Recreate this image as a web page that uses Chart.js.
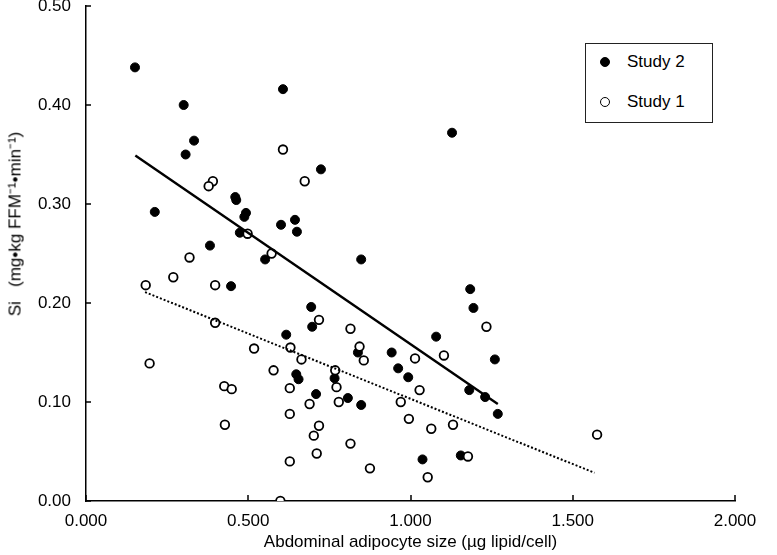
<!DOCTYPE html>
<html>
<head>
<meta charset="utf-8">
<script src="https://cdn.jsdelivr.net/npm/chart.js@4.4.1/dist/chart.umd.min.js"></script>
<style>
  body { margin: 0; background: #fff; }
  #wrap { position: relative; width: 777px; height: 555px; font-family: "Liberation Sans", Arial, sans-serif; color: #000; }
  #yTitle {
    position: absolute; left: 14px; top: 224px; white-space: nowrap; font-size: 17px;
    transform: translate(-50%, -50%) rotate(-90deg);
  }
  #legend {
    position: absolute; left: 585px; top: 43px; width: 126px; height: 78px;
    border: 1.5px solid #222; background: #fff;
  }
  .legend-item { position: absolute; left: 14px; display: flex; align-items: center; font-size: 17px; }
  .legend-mark { width: 8px; height: 8px; border-radius: 50%; border: 1.6px solid #000; margin-right: 17px; }
</style>
</head>
<body>
<div id="wrap">
  <canvas id="chart" width="777" height="555"></canvas>
  <div id="yTitle">Si&nbsp;&nbsp;&nbsp;(mg•kg FFM⁻¹•min⁻¹)</div>
  <div id="legend"></div>
</div>
<script>
// Study 2 (filled circles)
const study2X = [0.151, 0.301, 0.333, 0.307, 0.607, 0.724, 0.212, 0.460, 0.463, 0.493, 0.488, 0.601, 0.644, 0.650,
  0.474, 0.382, 0.552, 0.848, 0.447, 0.694, 0.697, 0.617, 0.838, 0.648, 0.655, 0.766, 0.709, 0.807, 0.848,
  1.128, 1.184, 1.194, 1.079, 0.942, 1.260, 0.962, 0.993, 1.181, 1.230, 1.269, 1.155, 1.037];
const study2Y = [0.438, 0.400, 0.364, 0.350, 0.416, 0.335, 0.292, 0.307, 0.304, 0.291, 0.287, 0.279, 0.284, 0.272,
  0.271, 0.258, 0.244, 0.244, 0.217, 0.196, 0.176, 0.168, 0.150, 0.128, 0.123, 0.124, 0.108, 0.104, 0.097,
  0.372, 0.214, 0.195, 0.166, 0.150, 0.143, 0.134, 0.125, 0.112, 0.105, 0.088, 0.046, 0.042];

// Study 1 (open circles)
const study1X = [0.607, 0.391, 0.378, 0.674, 0.498, 0.572, 0.319, 0.269, 0.184, 0.398, 0.398, 0.196, 0.518, 0.630,
  0.664, 0.718, 0.815, 0.843, 0.856, 0.768, 0.578, 0.772, 0.628, 0.426, 0.449, 0.779, 0.689, 0.628, 0.428,
  0.718, 0.702, 0.815, 0.711, 0.628, 0.875, 0.599, 1.234, 1.103, 1.014, 1.028, 0.970, 0.995, 1.064, 1.131,
  1.575, 1.177, 1.053];
const study1Y = [0.355, 0.323, 0.318, 0.323, 0.270, 0.250, 0.246, 0.226, 0.218, 0.218, 0.180, 0.139, 0.154, 0.155,
  0.143, 0.183, 0.174, 0.156, 0.142, 0.132, 0.132, 0.115, 0.114, 0.116, 0.113, 0.100, 0.098, 0.088, 0.077,
  0.076, 0.066, 0.058, 0.048, 0.040, 0.033, 0.000, 0.176, 0.147, 0.144, 0.112, 0.100, 0.083, 0.073, 0.077,
  0.067, 0.045, 0.024];

// trend line end points
const trend2X = [0.152, 1.269];
const trend2Y = [0.349, 0.098];
const trend1X = [0.182, 1.567];
const trend1Y = [0.211, 0.0285];

const FONT = "'Liberation Sans', Arial, sans-serif";

function zip(xs, ys) {
  return xs.map((x, i) => ({ x, y: ys[i] }));
}

// small tick marks drawn inward from the axis lines
const innerTicks = {
  id: "innerTicks",
  afterDraw(chart) {
    const { ctx, scales: { x, y }, chartArea } = chart;
    ctx.save();
    ctx.strokeStyle = "#000";
    ctx.lineWidth = 1.5;
    ctx.beginPath();
    x.ticks.forEach((t) => {
      const px = Math.round(x.getPixelForValue(t.value));
      ctx.moveTo(px, chartArea.bottom);
      ctx.lineTo(px, chartArea.bottom - 6);
    });
    y.ticks.forEach((t) => {
      const py = Math.round(y.getPixelForValue(t.value));
      ctx.moveTo(chartArea.left, py);
      ctx.lineTo(chartArea.left + 5, py);
    });
    ctx.stroke();
    ctx.restore();
  },
};

const pointSets = [
  { label: "Study 2", fill: "#000" },
  { label: "Study 1", fill: "#fff" },
];

const chart = new Chart(document.getElementById("chart"), {
  type: "scatter",
  data: {
    datasets: [
      {
        label: pointSets[0].label,
        data: zip(study2X, study2Y),
        pointRadius: 4.5,
        pointBorderWidth: 1,
        pointBackgroundColor: "#000",
        pointBorderColor: "#000",
        order: 3,
      },
      {
        label: pointSets[1].label,
        data: zip(study1X, study1Y),
        pointRadius: 4.3,
        pointBorderWidth: 1.8,
        pointBackgroundColor: "#fff",
        pointBorderColor: "#000",
        order: 2,
      },
      {
        type: "line",
        data: zip(trend2X, trend2Y),
        borderColor: "#000",
        borderWidth: 2.4,
        pointRadius: 0,
        order: 1,
      },
      {
        type: "line",
        data: zip(trend1X, trend1Y),
        borderColor: "#000",
        borderWidth: 2,
        borderDash: [2, 2],
        pointRadius: 0,
        order: 1,
      },
    ],
  },
  options: {
    responsive: false,
    animation: false,
    events: [],
    layout: { autoPadding: false, padding: { top: 6, right: 42, left: 0, bottom: 0 } },
    plugins: { legend: { display: false }, tooltip: { enabled: false } },
    scales: {
      x: {
        type: "linear",
        min: 0,
        max: 2,
        grid: { display: false, drawTicks: false },
        border: { display: true, color: "#000", width: 1.5 },
        ticks: { stepSize: 0.5, padding: 10.5, color: "#000", font: { family: FONT, size: 17 }, callback: (v) => v.toFixed(3) },
        title: { display: true, text: "Abdominal adipocyte size (µg lipid/cell)", color: "#000", font: { family: FONT, size: 17 }, padding: { top: 0, bottom: 2 } },
        afterFit: (scale) => { scale.height = 54; },
      },
      y: {
        min: 0,
        max: 0.5,
        grid: { display: false, drawTicks: true, tickLength: 19.5 },
        border: { display: true, color: "#000", width: 1.5 },
        ticks: { stepSize: 0.1, padding: -4.5, color: "#000", font: { family: FONT, size: 17 }, callback: (v) => v.toFixed(2) },
        afterFit: (scale) => { scale.width = 86; },
      },
    },
  },
  plugins: [innerTicks],
});

// legend box inside the plot, built from the point datasets
document.getElementById("legend").innerHTML = pointSets
  .map(
    (item, i) => `
      <div class="legend-item" style="top:${i === 0 ? 8 : 48}px">
        <span class="legend-mark" style="background:${item.fill}"></span>${item.label}
      </div>
    `,
  )
  .join("");
</script>
</body>
</html>
